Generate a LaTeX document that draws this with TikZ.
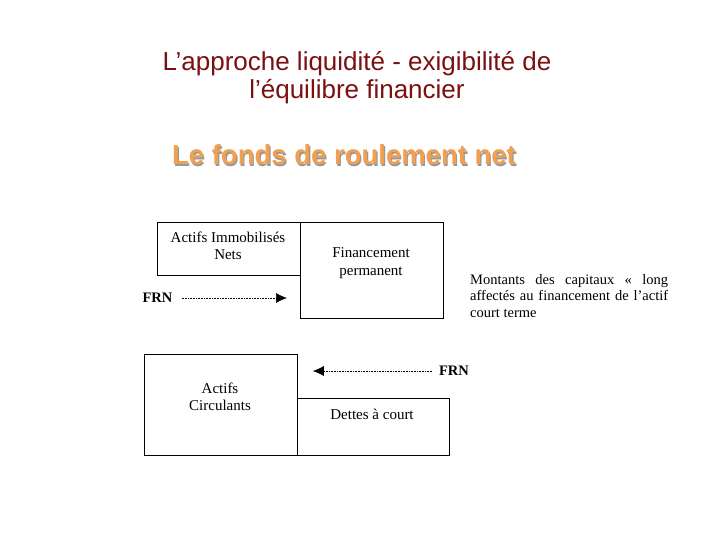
\documentclass[tikz,border=0pt]{standalone}
\usepackage{fontspec}
\setmainfont{Liberation Serif}
\newfontfamily\titlefont{Liberation Sans}
\usetikzlibrary{positioning,arrows.meta}
\definecolor{titlered}{RGB}{122,16,16}
\definecolor{suborange}{RGB}{240,160,80}
\begin{document}
\begin{tikzpicture}[x=1pt,y=-1pt,
    bloc/.style={draw, line width=0.8pt, inner sep=0pt},
    lbl/.style={align=center, inner sep=0pt, font=\fontsize{15}{17.5}\selectfont},
    frn/.style={inner sep=0pt, font=\bfseries\fontsize{14.5}{16}\selectfont},
    fleche/.style={densely dotted, line width=0.6pt, -{Latex[length=11pt,width=10pt]}}]
\useasboundingbox (0,0) rectangle (720,540);
% titres
\node[align=center, text=titlered, font=\titlefont\fontsize{26}{28}\selectfont] (titre) at (357,78)
    {L’approche liquidité - exigibilité de\\l’équilibre financier};
\node[text=black!40, font=\titlefont\bfseries\fontsize{27.5}{30}\selectfont] (sousombre) at (345.2,156.2) {Le fonds de roulement net};
\node[text=suborange, font=\titlefont\bfseries\fontsize{27.5}{30}\selectfont] (soustitre) at (344,155) {Le fonds de roulement net};
% blocs du haut
\node[bloc, anchor=north west, minimum width=143pt, minimum height=53pt] (ain) at (157,222) {};
\node[bloc, anchor=north west, minimum width=143pt, minimum height=96pt] (fin) at (300,222) {};
\node[lbl] (ainT) at (228,246) {Actifs Immobilisés\\Nets};
\node[lbl] (finT) at (371,263) {Financement\\permanent};
% blocs du bas
\node[bloc, anchor=north west, minimum width=153pt, minimum height=101pt] (ac) at (144,354) {};
\node[bloc, anchor=north west, minimum width=152pt, minimum height=57pt] (dct) at (297,398) {};
\node[lbl] (acT) at (220,397) {Actifs\\Circulants};
\node[lbl] (dctT) at (372,414) {Dettes à court};
% FRN
\node[frn] (frn1) at (157.5,298) {FRN};
\node[frn] (frn2) at (454,371) {FRN};
\draw[fleche] ([xshift=9pt]frn1.east) -- ([xshift=-13pt]fin.west |- frn1.east);
\draw[fleche] ([xshift=-7pt]frn2.west) -- ([xshift=15pt]ac.east |- frn2.west);
% commentaire
\node[anchor=north west, inner sep=0pt, text width=198pt, align=justify,
    font=\fontsize{14.5}{16.5}\selectfont] (note) at (470,274)
    {Montants des capitaux «~long\linebreak affectés au financement de l’actif court terme};
\end{tikzpicture}
\end{document}
